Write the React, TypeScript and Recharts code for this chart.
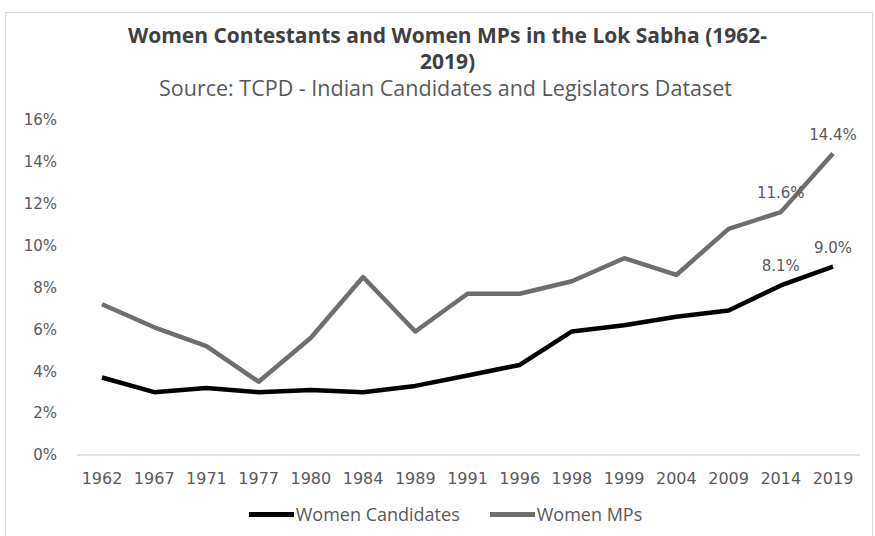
import { LineChart, Line, XAxis, YAxis, LabelList } from 'recharts'

const years = ['1962', '1967', '1971', '1977', '1980', '1984', '1989', '1991', '1996', '1998', '1999', '2004', '2009', '2014', '2019']
const womenCandidates = [3.7, 3.0, 3.2, 3.0, 3.1, 3.0, 3.3, 3.8, 4.3, 5.9, 6.2, 6.6, 6.9, 8.1, 9.0]
const womenMPs = [7.2, 6.1, 5.2, 3.5, 5.6, 8.5, 5.9, 7.7, 7.7, 8.3, 9.4, 8.6, 10.8, 11.6, 14.4]
const yTicks = [0, 2, 4, 6, 8, 10, 12, 14, 16]
const labelledYears = ['2014', '2019']

const data = years.map((y, i) => ({ year: y, cand: womenCandidates[i], mps: womenMPs[i] }))

const FONT = 'DejaVu Sans'
const TEXT = '#595959'

function PointLabel(props: any) {
  const { x, y, value, index } = props
  if (!labelledYears.includes(years[index])) return null
  return (
    <text x={x} y={y - 14} textAnchor="middle" fill={TEXT} fontSize={15} fontFamily={FONT}>
      {value.toFixed(1)}%
    </text>
  )
}

const legendItems = [
  { name: 'Women Candidates', color: '#000' },
  { name: 'Women MPs', color: '#6e6e6e' },
]

export default function App() {
  return (
    <div style={{ position: 'relative', width: 875, height: 536, background: '#fff', overflow: 'hidden' }}>
      <style>{'body{margin:0}'}</style>
      <div style={{ position: 'absolute', left: 5, top: 12, width: 866, height: 540, border: '1px solid #d9d9d9' }} />
      <div style={{ position: 'absolute', left: 0, top: 22, width: 875, textAlign: 'center', fontFamily: 'Open Sans', color: '#404040' }}>
        <div style={{ fontWeight: 700, fontSize: 21, lineHeight: '26px', marginLeft: 20 }}>
          Women Contestants and Women MPs in the Lok Sabha (1962-
          <br />
          2019)
        </div>
        <div style={{ fontSize: 21.5, lineHeight: '28px', color: TEXT, marginLeft: 16 }}>Source: TCPD - Indian Candidates and Legislators Dataset</div>
      </div>
      <div style={{ position: 'absolute', left: 0, top: 0 }}>
        <LineChart width={875} height={536} data={data} margin={{ top: 120, right: 15, bottom: 51, left: 17 }}>
          <XAxis
            dataKey="year"
            height={30}
            axisLine={{ stroke: '#d9d9d9', strokeWidth: 1.5 }}
            tickLine={false}
            tickMargin={12}
            padding={{ left: 25, right: 27 }}
            tick={{ fill: TEXT, fontSize: 16, fontFamily: FONT }}
            interval={0}
          />
          <YAxis
            domain={[0, 16]}
            ticks={yTicks}
            width={60}
            axisLine={false}
            tickLine={false}
            tickMargin={14}
            tickFormatter={(v) => `${v}%`}
            tick={{ fill: TEXT, fontSize: 15, fontFamily: FONT }}
          />
          <Line dataKey="cand" name="Women Candidates" stroke="#000" strokeWidth={4.5} dot={false} isAnimationActive={false} strokeLinejoin="round">
            <LabelList dataKey="cand" content={<PointLabel />} />
          </Line>
          <Line dataKey="mps" name="Women MPs" stroke="#6e6e6e" strokeWidth={4.5} dot={false} isAnimationActive={false} strokeLinejoin="round">
            <LabelList dataKey="mps" content={<PointLabel />} />
          </Line>
        </LineChart>
      </div>
      <div style={{ position: 'absolute', left: 0, top: 502, width: 875, display: 'flex', justifyContent: 'center', gap: 30, fontFamily: 'Open Sans', fontSize: 18, color: TEXT, marginLeft: 8 }}>
        {legendItems.map((it) => (
          <div key={it.name} style={{ display: 'flex', alignItems: 'center' }}>
            <div style={{ width: 45, height: 5, background: it.color, marginRight: 2 }} />
            {it.name}
          </div>
        ))}
      </div>
    </div>
  )
}
